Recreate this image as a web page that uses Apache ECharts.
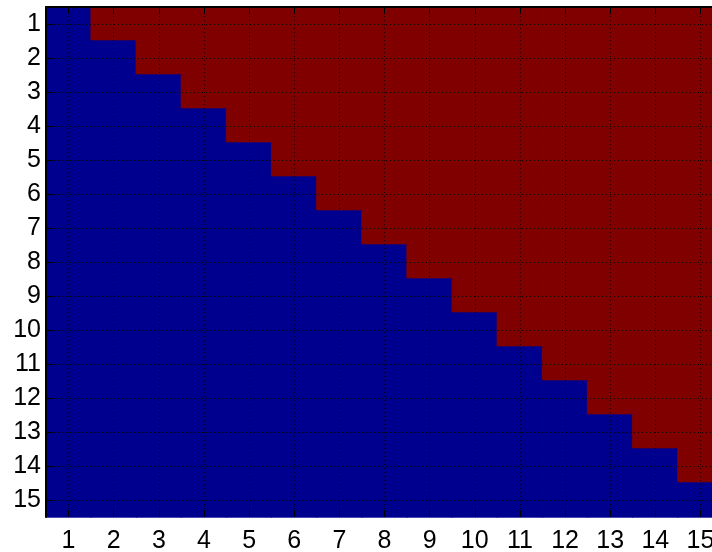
<!DOCTYPE html>
<html>
<head>
<meta charset="utf-8">
<script src="https://cdn.jsdelivr.net/npm/echarts@6/dist/echarts.min.js"></script>
<style>
  html, body { margin: 0; padding: 0; background: #fff; }
  #chart { width: 712px; height: 552px; }
</style>
</head>
<body>
<div id="chart"></div>
<script>
// Column and row labels
var colLabels = ['1','2','3','4','5','6','7','8','9','10','11','12','13','14','15'];
var rowLabels = ['1','2','3','4','5','6','7','8','9','10','11','12','13','14','15'];

// Cell values per row (0 = lower triangle, 1 = upper triangle)
var matrix = [
  [0,1,1,1,1,1,1,1,1,1,1,1,1,1,1],
  [0,0,1,1,1,1,1,1,1,1,1,1,1,1,1],
  [0,0,0,1,1,1,1,1,1,1,1,1,1,1,1],
  [0,0,0,0,1,1,1,1,1,1,1,1,1,1,1],
  [0,0,0,0,0,1,1,1,1,1,1,1,1,1,1],
  [0,0,0,0,0,0,1,1,1,1,1,1,1,1,1],
  [0,0,0,0,0,0,0,1,1,1,1,1,1,1,1],
  [0,0,0,0,0,0,0,0,1,1,1,1,1,1,1],
  [0,0,0,0,0,0,0,0,0,1,1,1,1,1,1],
  [0,0,0,0,0,0,0,0,0,0,1,1,1,1,1],
  [0,0,0,0,0,0,0,0,0,0,0,1,1,1,1],
  [0,0,0,0,0,0,0,0,0,0,0,0,1,1,1],
  [0,0,0,0,0,0,0,0,0,0,0,0,0,1,1],
  [0,0,0,0,0,0,0,0,0,0,0,0,0,0,1],
  [0,0,0,0,0,0,0,0,0,0,0,0,0,0,0]
];

// Fill colour for each cell value
var valueColors = ['#00008F', '#800000'];

// Cells carry a matching border so neighbouring cells join without seams
var cells = [];
matrix.forEach(function (row, r) {
  row.forEach(function (v, c) {
    cells.push({ value: [c, r, v], itemStyle: { borderColor: valueColors[v], borderWidth: 0.8 } });
  });
});

var FONT = '"Liberation Sans", Arial, sans-serif';
var FONT_SIZE = 25;
var GRID_W = 677, GRID_H = 510;
var dotted = { color: '#000', width: 1, type: [1, 3], opacity: 0.85 };
var solid = { color: '#000', width: 1 };
var shortTick = { show: true, inside: true, length: 7, alignWithLabel: true, interval: 0, lineStyle: solid };

function hiddenLabel() { return { show: false }; }

var chart = echarts.init(document.getElementById('chart'), null, { renderer: 'canvas' });
chart.setOption({
  animation: false,
  backgroundColor: '#fff',
  grid: { left: 46, top: 7, width: GRID_W, height: GRID_H, containLabel: false, outerBoundsMode: 'none' },
  visualMap: {
    show: false,
    type: 'piecewise',
    dimension: 2,
    seriesIndex: 0,
    pieces: [
      { value: 0, color: valueColors[0] },
      { value: 1, color: valueColors[1] }
    ]
  },
  xAxis: [
    { // labels and short ticks along the bottom
      type: 'category',
      data: colLabels,
      position: 'bottom',
      z: 6,
      axisLine: { show: false },
      axisTick: shortTick,
      axisLabel: { interval: 0, color: '#000', fontFamily: FONT, fontSize: FONT_SIZE, margin: 12 },
      splitLine: { show: false }
    },
    { // dotted vertical grid lines through the tick positions
      type: 'category',
      data: colLabels,
      position: 'bottom',
      z: 5,
      axisLine: { show: false },
      axisTick: { show: true, inside: true, length: GRID_H, alignWithLabel: true, interval: 0, lineStyle: dotted },
      axisLabel: hiddenLabel(),
      splitLine: { show: false }
    },
    { // top frame line with short ticks
      type: 'category',
      data: colLabels,
      position: 'top',
      z: 6,
      axisLine: { show: true, lineStyle: { color: '#000', width: 2 } },
      axisTick: shortTick,
      axisLabel: hiddenLabel(),
      splitLine: { show: false }
    }
  ],
  yAxis: [
    { // labels, frame line and short ticks on the left
      type: 'category',
      data: rowLabels,
      inverse: true,
      position: 'left',
      z: 6,
      axisLine: { show: true, lineStyle: { color: '#000', width: 2 } },
      axisTick: shortTick,
      axisLabel: { interval: 0, color: '#000', fontFamily: FONT, fontSize: FONT_SIZE, margin: 5 },
      splitLine: { show: false }
    },
    { // dotted horizontal grid lines through the tick positions
      type: 'category',
      data: rowLabels,
      inverse: true,
      position: 'left',
      z: 5,
      axisLine: { show: false },
      axisTick: { show: true, inside: true, length: GRID_W, alignWithLabel: true, interval: 0, lineStyle: dotted },
      axisLabel: hiddenLabel(),
      splitLine: { show: false }
    }
  ],
  series: [{
    type: 'heatmap',
    xAxisIndex: 0,
    yAxisIndex: 0,
    data: cells,
    emphasis: { disabled: true }
  }]
});
</script>
</body>
</html>
